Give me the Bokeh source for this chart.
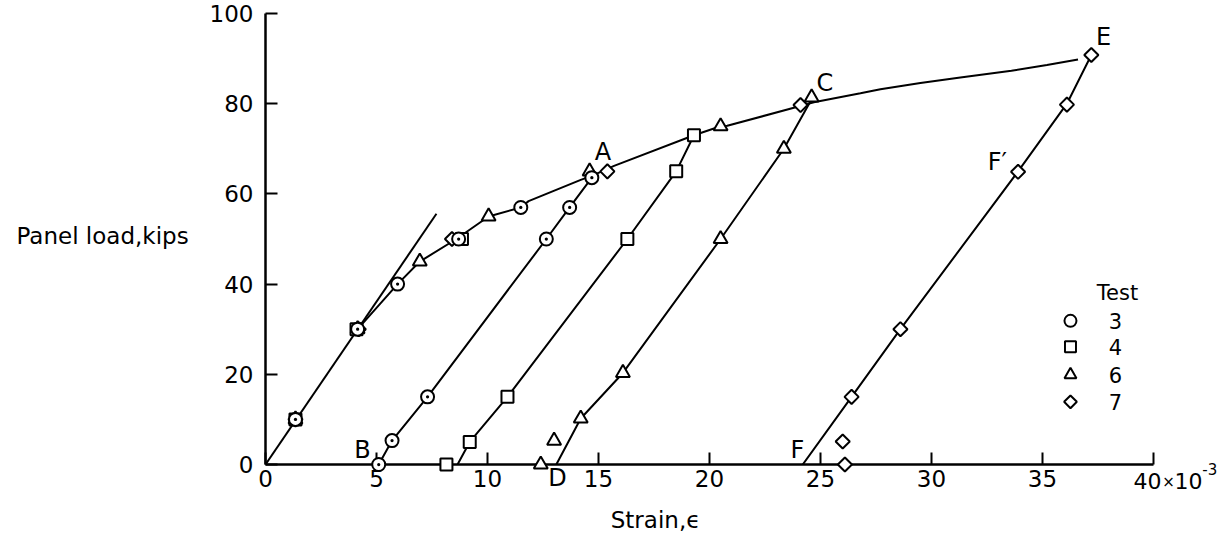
import math
from bokeh.plotting import figure
from bokeh.models import Range1d, FixedTicker
from bokeh.embed import file_html
from bokeh.resources import INLINE
from bokeh.core.properties import value

# ---------------- data (strain x10^-3, panel load kips) ----------------
t3_strain = [1.35, 4.15, 5.95, 8.7, 11.5, 14.7, 5.1, 5.7, 7.3, 12.65, 13.7]
t3_load = [10, 30, 40, 50, 57, 63.6, 0, 5.3, 15, 50, 57]

t4_strain = [1.35, 4.1, 8.85, 8.15, 9.2, 10.9, 16.3, 18.5, 19.3]
t4_load = [10, 30, 50, 0, 5, 15, 50, 65, 73]

t6_strain = [1.35, 4.15, 6.95, 10.05, 14.6, 20.5, 24.6, 12.4, 13.0, 14.2, 16.1, 20.5, 23.35]
t6_load = [10, 30, 45, 55, 65, 75, 81.4, 0, 5.3, 10.2, 20.3, 50, 70]

t7_strain = [1.35, 4.2, 8.4, 15.4, 24.1, 37.2, 36.1, 33.9, 28.6, 26.4, 26.0, 26.1]
t7_load = [10, 30, 50, 65, 79.7, 90.8, 79.8, 64.9, 30, 15, 5.1, 0]

# faired curves
elastic_strain = [0, 7.7]
elastic_load = [0, 55.6]

envelope_strain = [4.15, 5.95, 6.95, 8.6, 10.05, 11.5, 11.85, 14.2, 14.7, 15.7, 19.3, 20.5,
                   20.8, 23.8, 24.7, 26.8, 27.7, 29.5, 31.3, 33.6, 35.2, 36.6]
envelope_load = [30, 40, 45, 50, 55, 57, 58.4, 63.1, 64, 66.2, 73, 75,
                 75.1, 79.1, 80.3, 82.3, 83.2, 84.6, 85.8, 87.3, 88.6, 89.8]

unload3_strain = [5.1, 5.7, 7.3, 12.65, 13.7, 14.7]
unload3_load = [0, 5.3, 15, 50, 57, 63.6]
unload4_strain = [8.65, 9.2, 10.9, 16.3, 18.5, 19.3]
unload4_load = [0, 5, 15, 50, 65, 73]
unload6_strain = [13.1, 14.2, 16.1, 20.5, 23.35, 24.6]
unload6_load = [0, 10.2, 20.3, 50, 70, 81.0]
unload7_strain = [24.2, 26.4, 28.6, 33.9, 36.1, 37.2]
unload7_load = [0, 15, 30, 65, 80, 90.8]

point_labels = ["A", "B", "C", "D", "E", "F", "F\u2032"]
point_label_strain = [15.2, 4.37, 25.2, 13.15, 37.75, 23.96, 32.97]
point_label_load = [69.4, 3.2, 84.6, -3.1, 94.9, 3.2, 67.1]

x_ticks = [0, 5, 10, 15, 20, 25, 30, 35, 40]
y_ticks = [0, 20, 40, 60, 80, 100]

legend_title = "Test"
legend_tests = ["3", "4", "6", "7"]
legend_markers = ["circle", "square", "triangle", "diamond"]

FONT = "DejaVu Sans"

W, H = 1230, 541
BL, BR, BT, BB = 265, 77, 13, 77

p = figure(width=W, height=H, output_backend="svg", toolbar_location=None,
           x_range=Range1d(0, 40), y_range=Range1d(0, 100),
           min_border_left=BL, min_border_right=BR, min_border_top=BT,
           min_border_bottom=BB, title=None)
p.background_fill_color = "white"
p.border_fill_color = "white"
p.outline_line_color = None
p.grid.visible = False

p.xaxis.ticker = FixedTicker(ticks=x_ticks)
p.yaxis.ticker = FixedTicker(ticks=y_ticks)
p.xaxis.major_label_overrides = {40: ""}
for ax in [p.xaxis[0], p.yaxis[0]]:
    ax.axis_line_width = 2.5
    ax.axis_line_color = "black"
    ax.major_tick_in = 12
    ax.major_tick_out = 0
    ax.major_tick_line_width = 2
    ax.major_tick_line_color = "black"
    ax.minor_tick_line_color = None
    ax.major_label_text_font = FONT
    ax.major_label_text_font_size = "23px"
    ax.major_label_text_color = "black"
p.xaxis.major_label_standoff = 5
p.yaxis.major_label_standoff = 12

LW = 2
# curves
p.line(elastic_strain, elastic_load, line_color="black", line_width=LW)
p.line(envelope_strain, envelope_load, line_color="black", line_width=LW)
for xs, ys in [(unload3_strain, unload3_load), (unload4_strain, unload4_load),
               (unload6_strain, unload6_load), (unload7_strain, unload7_load)]:
    p.line(xs, ys, line_color="black", line_width=LW)

# markers (drawn on the overlay level so that points on the axis are not cut)
common = dict(fill_color="white", line_color="black", line_width=2)
rs = []
rs.append(p.scatter(t7_strain, t7_load, marker="square", angle=math.pi / 4, size=10, **common))
rs.append(p.scatter(t6_strain, t6_load, marker="triangle", size=14, **common))
rs.append(p.scatter(t4_strain, t4_load, marker="square", size=12, **common))
rs.append(p.scatter(t3_strain, t3_load, marker="circle_dot", size=13, **common))
for r in rs:
    r.level = "overlay"


def texts(xs, ys, ts, size, align="center"):
    r = p.text(x=xs, y=ys, text=ts, text_font=value(FONT), text_font_size=value(size),
               text_align=align, text_baseline="middle", text_color="black")
    r.level = "overlay"
    return r


# point letters
texts(point_label_strain, point_label_load, point_labels, "24px")

# legend (as drawn in the figure)
leg_x_sym = 36.26
leg_x_txt = 38.29
leg_rows = [31.85, 26.1, 19.9, 13.9]
texts([38.38], [38.1], [legend_title], "21px")
leg_sizes = [12, 11, 12, 9]
for t, m, yy, s in zip(legend_tests, legend_markers, leg_rows, leg_sizes):
    if m == "diamond":
        p.scatter([leg_x_sym], [yy], marker="square", angle=math.pi / 4, size=s, **common)
    else:
        p.scatter([leg_x_sym], [yy], marker=m, size=s, **common)
texts([leg_x_txt] * len(legend_tests), leg_rows, legend_tests, "21px")

# axis titles and multiplier
texts([-7.34], [50.7], ["Panel load,kips"], "23px")
texts([17.57], [-12.3], ["Strain,\u03f5"], "23px")
texts([39.1], [-3.55], ["40"], "22px", align="left")
texts([40.68], [-3.8], ["\u00d7"], "15px")
texts([40.95], [-3.55], ["10"], "22px", align="left")
texts([42.2], [-1.0], ["-3"], "15px", align="left")

open("out.html", "w").write(file_html(p, INLINE))
